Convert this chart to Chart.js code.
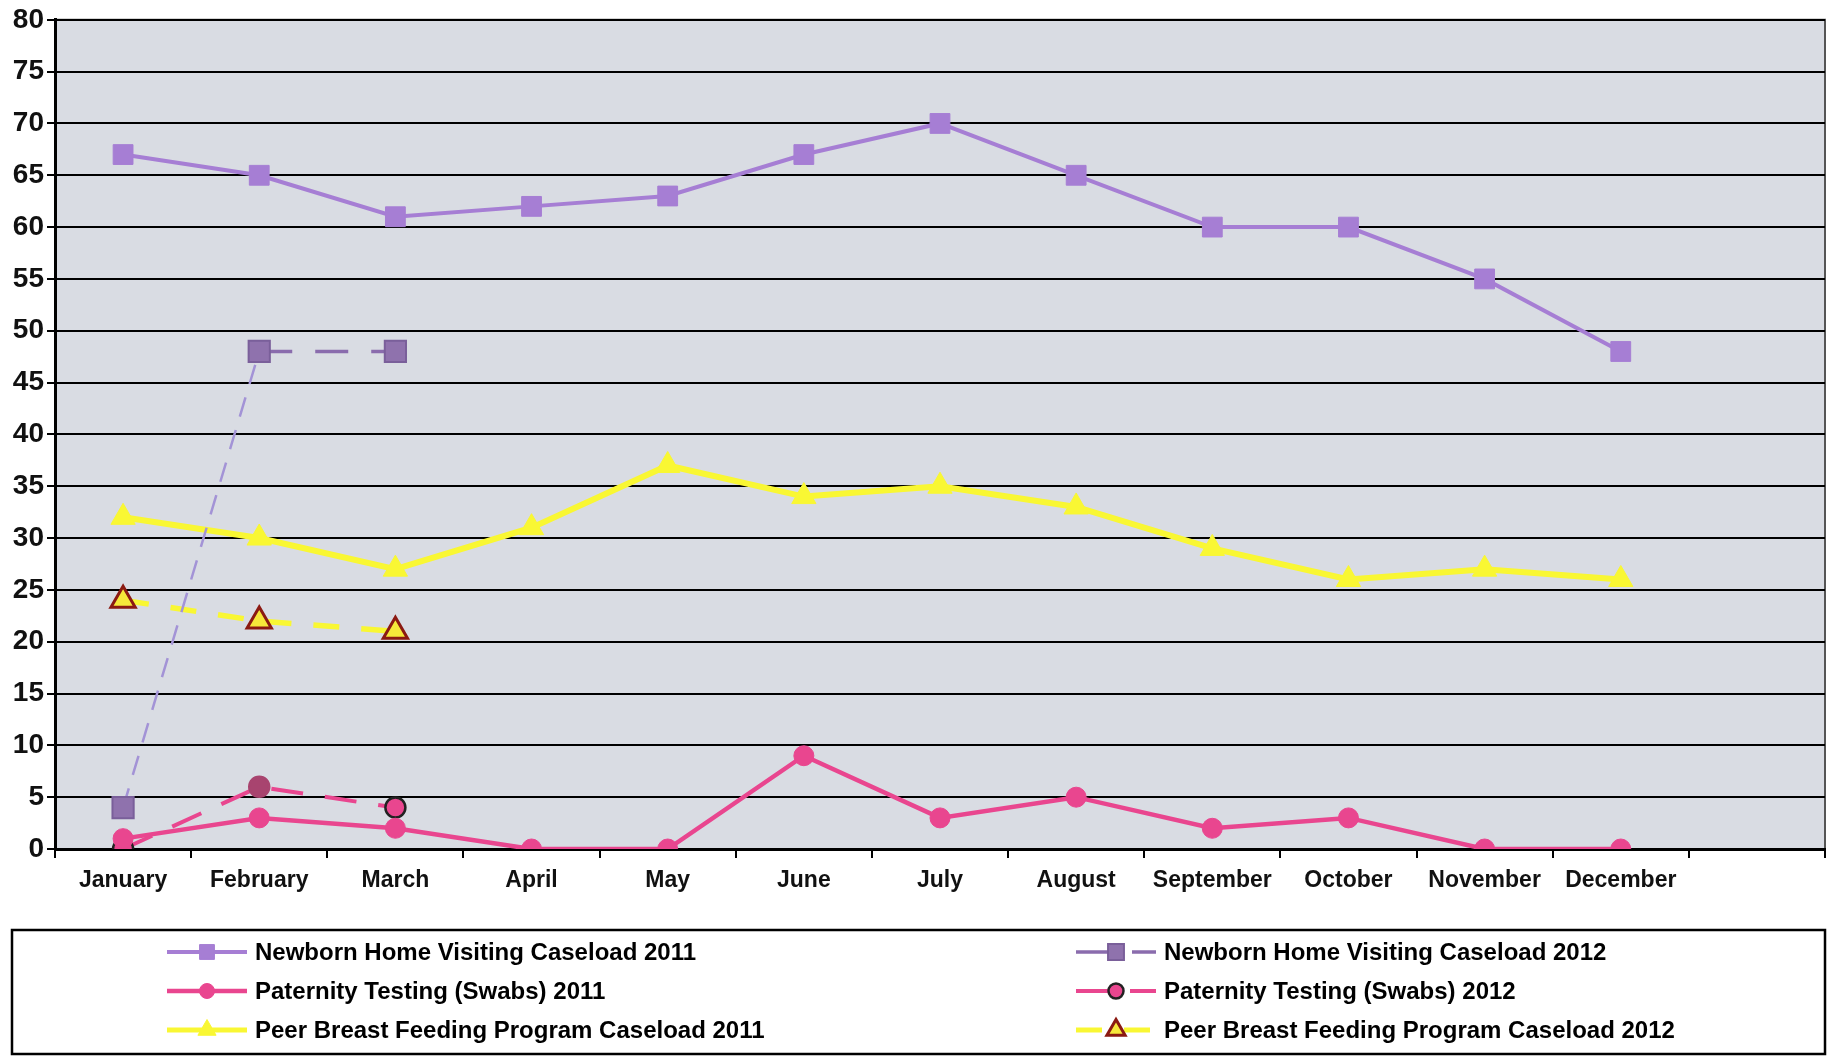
<!DOCTYPE html>
<html>
<head>
<meta charset="utf-8">
<script src="https://cdn.jsdelivr.net/npm/chart.js@4.4.1/dist/chart.umd.min.js"></script>
<style>
  html, body { margin: 0; padding: 0; background: #fff; }
  #wrap { width: 1827px; height: 1059px; }
</style>
</head>
<body>
<div id="wrap"><canvas id="caseChart" width="1827" height="1059"></canvas></div>
<script>
// months (13th slot is empty, as in the original sheet)
const months = ['January', 'February', 'March', 'April', 'May', 'June', 'July',
    'August', 'September', 'October', 'November', 'December', ''];
const yTicks = [0, 80, 5]; // min, max, step

const newborn2011 = [67, 65, 61, 62, 63, 67, 70, 65, 60, 60, 55, 48];
const newborn2012 = [4, 48, 48];
const paternity2011 = [1, 3, 2, 0, 0, 9, 3, 5, 2, 3, 0, 0];
const paternity2012 = [0, 6, 4];
const breastfeeding2011 = [32, 30, 27, 31, 37, 34, 35, 33, 29, 26, 27, 26];
const breastfeeding2012 = [24, 22, 21];

const FONT = "'Liberation Sans', Arial, sans-serif";

// grey plot background
const plotBg = {
    id: 'plotBg',
    beforeDraw(chart) {
        const { ctx, chartArea: a } = chart;
        ctx.save();
        ctx.fillStyle = '#d9dce3';
        ctx.fillRect(a.left, a.top, a.right - a.left, a.bottom - a.top);
        ctx.strokeStyle = '#555';
        ctx.lineWidth = 2;
        ctx.beginPath();
        ctx.moveTo(a.left, a.top);
        ctx.lineTo(a.right, a.top);
        ctx.lineTo(a.right, a.bottom);
        ctx.stroke();
        ctx.restore();
    }
};

// two column legend in a box under the chart
const boxLegend = {
    id: 'boxLegend',
    afterDraw(chart) {
        const ctx = chart.ctx;
        const sets = chart.data.datasets;
        const cols = [{ x: 167, idx: [0, 2, 4] }, { x: 1076, idx: [1, 3, 5] }];
        const rowsY = [952, 991, 1030];
        ctx.save();
        ctx.strokeStyle = '#000';
        ctx.lineWidth = 2.5;
        ctx.strokeRect(12, 930, 1813, 124);
        cols.forEach(col => {
            col.idx.forEach((di, r) => {
                const ds = sets[di];
                const y = rowsY[r];
                const x0 = col.x, x1 = col.x + 80;
                ctx.save();
                ctx.strokeStyle = ds.legendLine || ds.borderColor;
                ctx.lineWidth = Math.min(ds.borderWidth, 5);
                ctx.setLineDash(ds.borderDash || []);
                ctx.beginPath();
                ctx.moveTo(x0, y);
                ctx.lineTo(x1, y);
                ctx.stroke();
                ctx.restore();

                const bg = Array.isArray(ds.pointBackgroundColor) ? ds.pointBackgroundColor[0] : ds.pointBackgroundColor;
                ctx.save();
                ctx.fillStyle = bg;
                ctx.strokeStyle = Array.isArray(ds.pointBorderColor) ? ds.pointBorderColor[0] : ds.pointBorderColor;
                ctx.lineWidth = ds.pointBorderWidth;
                Chart.helpers.drawPoint(ctx, {
                    pointStyle: ds.pointStyle,
                    radius: ds.pointRadius * 0.75,
                    rotation: 0,
                    borderWidth: ds.pointBorderWidth
                }, (x0 + x1) / 2, y);
                ctx.restore();

                ctx.fillStyle = '#000';
                ctx.font = 'bold 24px ' + FONT;
                ctx.textBaseline = 'middle';
                ctx.textAlign = 'left';
                ctx.fillText(ds.label, x1 + 8, y + 1);
            });
        });
        ctx.restore();
    }
};

new Chart(document.getElementById('caseChart'), {
    type: 'line',
    data: {
        labels: months,
        datasets: [
            {
                label: 'Newborn Home Visiting Caseload 2011',
                data: newborn2011,
                borderColor: '#a67ed4',
                borderWidth: 4,
                pointStyle: 'rect',
                pointRadius: 14,
                pointBackgroundColor: '#a67ed4',
                pointBorderColor: '#a67ed4',
                pointBorderWidth: 1,
                tension: 0
            },
            {
                label: 'Newborn Home Visiting Caseload 2012',
                data: newborn2012,
                borderColor: '#8a6cad',
                legendLine: '#8a6cad',
                borderWidth: 3.5,
                borderDash: [33, 23],
                segment: {
                    borderColor: c => c.p0DataIndex === 0 ? '#a393d6' : '#8a6cad',
                    borderWidth: c => c.p0DataIndex === 0 ? 2.5 : 3.5,
                    borderDash: c => c.p0DataIndex === 0 ? [20, 14] : [33, 23]
                },
                pointStyle: 'rect',
                pointRadius: 15,
                pointBackgroundColor: '#8f72ad',
                pointBorderColor: '#7a5f9a',
                pointBorderWidth: 2,
                tension: 0
            },
            {
                label: 'Paternity Testing (Swabs) 2011',
                data: paternity2011,
                borderColor: '#e9468f',
                borderWidth: 4.5,
                pointStyle: 'circle',
                pointRadius: 10,
                pointBackgroundColor: '#e9468f',
                pointBorderColor: '#e9468f',
                pointBorderWidth: 1,
                tension: 0
            },
            {
                label: 'Paternity Testing (Swabs) 2012',
                data: paternity2012,
                borderColor: '#e9468f',
                borderWidth: 4,
                borderDash: [32, 22],
                pointStyle: 'circle',
                pointRadius: 10,
                pointBackgroundColor: ['#e9468f', '#a8446f', '#e9468f'],
                pointBorderColor: ['#222', '#a8446f', '#222'],
                pointBorderWidth: 2.5,
                tension: 0
            },
            {
                label: 'Peer Breast Feeding Program Caseload 2011',
                data: breastfeeding2011,
                borderColor: '#f9f733',
                borderWidth: 6,
                pointStyle: 'triangle',
                pointRadius: 14,
                pointBackgroundColor: '#f9f733',
                pointBorderColor: '#f9f733',
                pointBorderWidth: 1,
                tension: 0
            },
            {
                label: 'Peer Breast Feeding Program Caseload 2012',
                data: breastfeeding2012,
                borderColor: '#f9f733',
                borderWidth: 5.5,
                borderDash: [26, 22],
                pointStyle: 'triangle',
                pointRadius: 14,
                pointBackgroundColor: '#f6e83a',
                pointBorderColor: '#8b1a12',
                pointBorderWidth: 3,
                tension: 0
            }
        ]
    },
    options: {
        responsive: false,
        animation: false,
        events: [],
        layout: { autoPadding: false, padding: { top: 16, right: 2, bottom: 155, left: 0 } },
        plugins: {
            legend: { display: false },
            tooltip: { enabled: false }
        },
        scales: {
            x: {
                offset: true,
                afterFit: s => { s.height = 55; },
                grid: { offset: true, drawOnChartArea: false, color: '#000', lineWidth: 2, tickLength: 9 },
                border: { color: '#000', width: 3 },
                ticks: {
                    color: '#111',
                    font: { family: FONT, size: 23, weight: 'bold' },
                    padding: 9,
                    maxRotation: 0,
                    autoSkip: false
                }
            },
            y: {
                min: yTicks[0],
                max: yTicks[1],
                afterFit: s => { s.width = 55; },
                grid: { color: '#000', lineWidth: 2, tickLength: 8 },
                border: { color: '#000', width: 3 },
                ticks: {
                    stepSize: yTicks[2],
                    color: '#111',
                    padding: 3,
                    font: { family: FONT, size: 28, weight: 'bold' }
                }
            }
        }
    },
    plugins: [plotBg, boxLegend]
});
</script>
</body>
</html>
